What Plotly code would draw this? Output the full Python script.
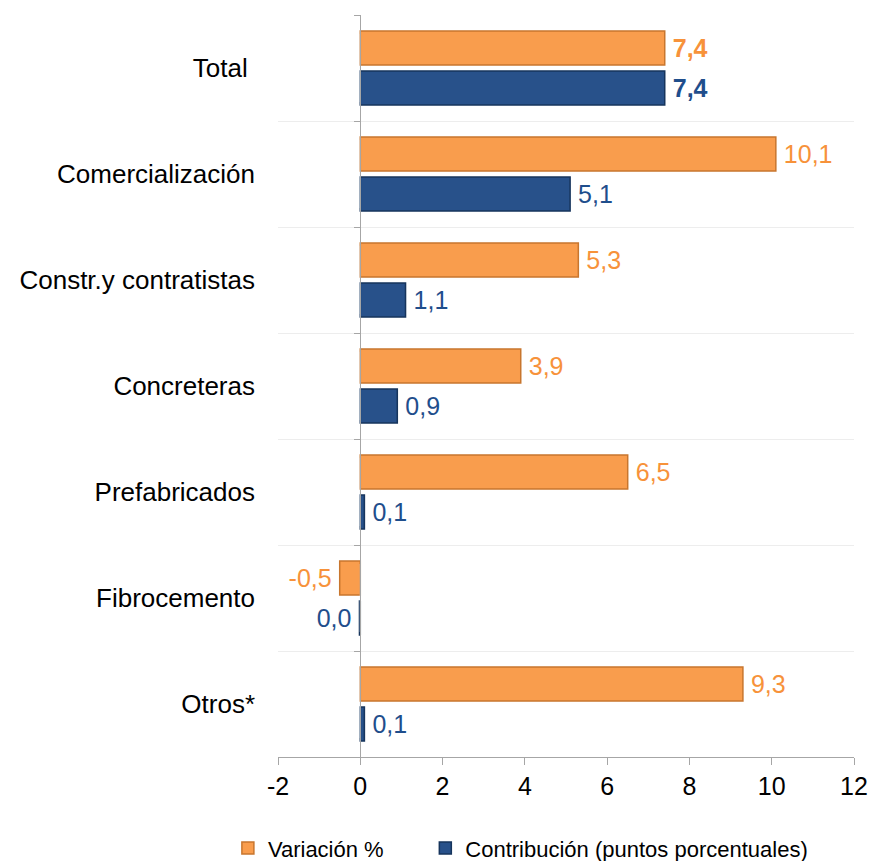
import plotly.graph_objects as go

categories = ["Total ", "Comercialización", "Constr.y contratistas", "Concreteras",
              "Prefabricados", "Fibrocemento", "Otros*"]
variacion = [7.4, 10.1, 5.3, 3.9, 6.5, -0.5, 9.3]
contribucion = [7.4, 5.1, 1.1, 0.9, 0.1, -0.02, 0.1]
variacion_labels = ["7,4", "10,1", "5,3", "3,9", "6,5", "-0,5", "9,3"]
contribucion_labels = ["7,4", "5,1", "1,1", "0,9", "0,1", "0,0", "0,1"]
x_ticks = [-2, 0, 2, 4, 6, 8, 10, 12]

ORANGE = "#F99D4D"
ORANGE_EDGE = "#C8762E"
BLUE = "#28518A"
BLUE_EDGE = "#16345C"
FONT = "Liberation Sans, Arial, sans-serif"


def fmt(labels, values):
    out = []
    for i, (t, v) in enumerate(zip(labels, values)):
        t = f"<b>{t}</b>" if i == 0 else t
        out.append(t + "\u2009" if v < 0 else "\u2009" + t)
    return out


fig = go.Figure()
fig.add_trace(go.Bar(
    y=categories, x=variacion, orientation="h", name="Variación %\u00a0\u00a0\u00a0\u00a0\u00a0\u00a0",
    marker=dict(color=ORANGE, line=dict(color=ORANGE_EDGE, width=1.5)),
    text=fmt(variacion_labels, variacion), textposition="outside", cliponaxis=False,
    textfont=dict(color="#F7923A", size=25, family=FONT),
))
fig.add_trace(go.Bar(
    y=categories, x=contribucion, orientation="h", name="Contribución (puntos porcentuales)",
    marker=dict(color=BLUE, line=dict(color=BLUE_EDGE, width=1.5)),
    text=fmt(contribucion_labels, contribucion), textposition="outside", cliponaxis=False,
    textfont=dict(color="#1F4E8C", size=25, family=FONT),
))
# invisible trace carrying the axis drawn at x = 0
fig.add_trace(go.Bar(y=categories, x=[0] * len(categories), orientation="h",
                     yaxis="y2", showlegend=False, hoverinfo="skip",
                     marker=dict(color="rgba(0,0,0,0)")))

W, H = 870, 861
L, R, T, B = 278, 16, 15, 104
xmin, xmax = -2, 12
pos0 = (0 - xmin) / (xmax - xmin)

fig.update_layout(
    width=W, height=H,
    margin=dict(l=L, r=R, t=T, b=B, autoexpand=False),
    paper_bgcolor="white", plot_bgcolor="white",
    barmode="group", bargap=0.245, bargroupgap=0.15,
    font=dict(family=FONT, color="black"),
    showlegend=True,
    legend=dict(orientation="h", x=-0.087, xanchor="left", y=-0.123, yanchor="middle",
                font=dict(size=22, color="black"), itemwidth=30,
                traceorder="normal"),
    xaxis=dict(range=[xmin, xmax], tickvals=x_ticks, ticktext=[str(v) for v in x_ticks],
               showgrid=False, zeroline=False, showline=True, linecolor="#A6A6A6",
               linewidth=1, ticks="outside", ticklen=7, tickcolor="#A6A6A6",
               tickfont=dict(size=25, color="black"), domain=[0, 1]),
    yaxis=dict(type="category", categoryorder="array", categoryarray=categories,
               autorange="reversed", tickson="boundaries", showgrid=True,
               gridcolor="#EDEDED", gridwidth=1, ticks="", showline=False,
               tickfont=dict(size=26, color="black"), ticklabelstandoff=22),
    yaxis2=dict(type="category", categoryorder="array", categoryarray=categories,
                autorange="reversed", overlaying="y", anchor="free", position=pos0,
                side="left", tickson="boundaries", showgrid=False, ticks="outside",
                ticklen=6, tickcolor="#A6A6A6", showline=True, linecolor="#A6A6A6",
                linewidth=1, showticklabels=False),
    xaxis2=dict(overlaying="x", matches="x", side="top", showline=True,
                linecolor="#EDEDED", linewidth=1, showticklabels=False, ticks="",
                showgrid=False, zeroline=False),
)
fig.write_html("out.html", config={"displayModeBar": False},
               post_script="document.body.style.margin='0';")
